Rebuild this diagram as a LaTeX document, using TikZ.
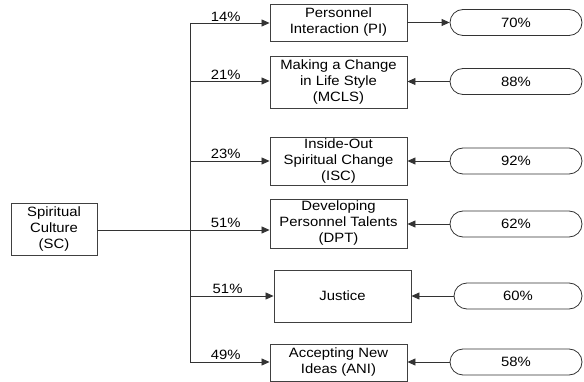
\documentclass[tikz,border=0pt]{standalone}
\usepackage{fontspec}
\setmainfont{Liberation Sans}[FakeStretch=1.1]
\usetikzlibrary{arrows.meta,shapes.misc}
\begin{document}
\begin{tikzpicture}[x=1pt,y=-1pt,
  font=\fontsize{13.5}{16}\selectfont,
  line/.style={draw=black!80,line width=0.8pt},
  arr/.style={line,-{Triangle[length=8pt,width=7pt]}},
  box/.style={draw=black!75,line width=0.9pt,align=center,inner sep=1pt,minimum width=137pt},
  pill/.style={draw=black!80,line width=0.8pt,rounded rectangle,minimum width=134pt,minimum height=26pt,inner sep=1pt},
  pct/.style={above,inner sep=1.5pt}]
\useasboundingbox (0,0) rectangle (584,382);
\node[box,minimum width=86pt,minimum height=52pt] (sc) at (54,229) {Spiritual\\Culture\\(SC)};
\node[box,minimum height=37pt] (pi) at (338.5,22.5) {Personnel\\Interaction (PI)};
\node[box,minimum height=52pt] (mcls) at (338.5,82) {Making a Change\\in Life Style\\(MCLS)};
\node[box,minimum height=48pt] (isc) at (338.5,161) {Inside-Out\\Spiritual Change\\(ISC)};
\node[box,minimum height=49pt] (dpt) at (338.5,223.5) {Developing\\Personnel Talents\\(DPT)};
\node[box,minimum height=52pt] (jus) at (342.5,296) {Justice};
\node[box,minimum height=37pt] (ani) at (338.5,362.5) {Accepting New\\Ideas (ANI)};
\node[pill] (p1) at (516,22.5) {70\%};
\node[pill] (p2) at (516,81.5) {88\%};
\node[pill] (p3) at (516,161) {92\%};
\node[pill] (p4) at (516,224) {62\%};
\node[pill,minimum width=130pt] (p5) at (518,296) {60\%};
\node[pill] (p6) at (516,362) {58\%};
\coordinate (t1) at (190,23);
\coordinate (t2) at (190,81);
\coordinate (t3) at (190,161);
\coordinate (t4) at (190,230);
\coordinate (t5) at (190,296);
\coordinate (t6) at (190,362);
\draw[line] (t1) -- (t6);
\draw[line] (sc.east |- t4) -- (t4);
\draw[arr] (t1) -- node[pct,pos=0.45] {14\%} (t1 -| pi.west);
\draw[arr] (t2) -- node[pct,pos=0.45] {21\%} (t2 -| mcls.west);
\draw[arr] (t3) -- node[pct,pos=0.45] {23\%} (t3 -| isc.west);
\draw[arr] (t4) -- node[pct,pos=0.45] {51\%} (t4 -| dpt.west);
\draw[arr] (t5) -- node[pct,pos=0.45] {51\%} (t5 -| jus.west);
\draw[arr] (t6) -- node[pct,pos=0.45] {49\%} (t6 -| ani.west);
\draw[arr] (pi.east) -- (p1.west);
\draw[arr] (p2.west) -- (p2.west -| mcls.east);
\draw[arr] (p3.west) -- (p3.west -| isc.east);
\draw[arr] (p4.west) -- (p4.west -| dpt.east);
\draw[arr] (p5.west) -- (p5.west -| jus.east);
\draw[arr] (p6.west) -- (p6.west -| ani.east);
\end{tikzpicture}
\end{document}
